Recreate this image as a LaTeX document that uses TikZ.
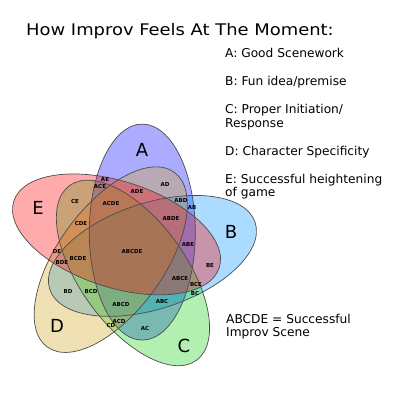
\documentclass[tikz,border=0pt]{standalone}
\usepackage{fontspec}
\usepackage{graphicx}
\setmainfont{DejaVu Sans}
\definecolor{setA}{RGB}{0,0,255}
\definecolor{setB}{RGB}{0,150,255}
\definecolor{setC}{RGB}{20,210,20}
\definecolor{setD}{RGB}{210,165,30}
\definecolor{setE}{RGB}{255,0,0}

\begin{document}
\begin{tikzpicture}[x=1pt,y=1pt,
    set fill/.style={fill=#1,fill opacity=0.33},
    set edge/.style={draw=black!70,line width=0.7pt},
    big letter/.style={font=\fontsize{18}{18}\selectfont,inner sep=0pt},
    region/.style={font=\bfseries\fontsize{5.5}{6}\selectfont,inner sep=0pt},
    legend/.style={font=\fontsize{12.2}{13.4}\selectfont,anchor=base west,
      inner sep=0pt,align=left}]
    \useasboundingbox (0,0) rectangle (400,400);
    \coordinate (O) at (131,149);
    % the five sets, each one turned by 72 degrees
    \foreach \s/\ang in {A/0,B/288,C/216,D/144,E/72}
      \fill[set fill=set\s,rotate around={\ang:(O)}] (142.3,167.9) ellipse [x radius=53,y radius=108];
    \foreach \ang in {0,72,...,288}
      \draw[set edge,rotate around={\ang:(O)}] (142.3,167.9) ellipse [x radius=53,y radius=108];
    \node[big letter] (labA) at (142,250) {A};
    \node[big letter] (labB) at (231,168) {B};
    \node[big letter] (labC) at (184,54) {C};
    \node[big letter] (labD) at (57,74) {D};
    \node[big letter] (labE) at (38,192) {E};
    % overlaps
    \foreach \t/\x/\y in {AE/105/221,ACE/100/214,AD/165/216,ADE/137/209,
        ABD/181/200,AB/192/193,CE/75/199,ACDE/111/197,ABDE/171/182,
        CDE/81/177,ABE/188/156,ABCDE/132/149,BCDE/78/142,DE/57/149,
        BDE/62/138,BE/210/135,ABCE/180/122,BCE/196/116,BC/195/107,
        ABC/162/99,ABCD/121/96,ACD/119/79,CD/111/75,AC/145/72,
        BD/68/109,BCD/91/109}
      \node[region] (r\t) at (\x,\y) {\t};
    % title and key (base = last line)
    \node[anchor=base west,inner sep=0pt,font=\fontsize{16}{18}\selectfont] (title) at (26,364) {\scalebox{1.12}[1]{How Improv Feels At The Moment:}};
    \node[legend] (keyA) at (225,342.7) {A: Good Scenework};
    \node[legend] (keyB) at (225,314.3) {B: Fun idea/premise};
    \node[legend] (keyC) at (225,272.7) {C: Proper Initiation/\\Response};
    \node[legend] (keyD) at (225,244.3) {D: Character Specificity};
    \node[legend] (keyE) at (225,203.3) {E: Successful heightening\\of game};
    \node[legend] (keyAll) at (226,63.3) {ABCDE = Successful\\Improv Scene};
\end{tikzpicture}
\end{document}
